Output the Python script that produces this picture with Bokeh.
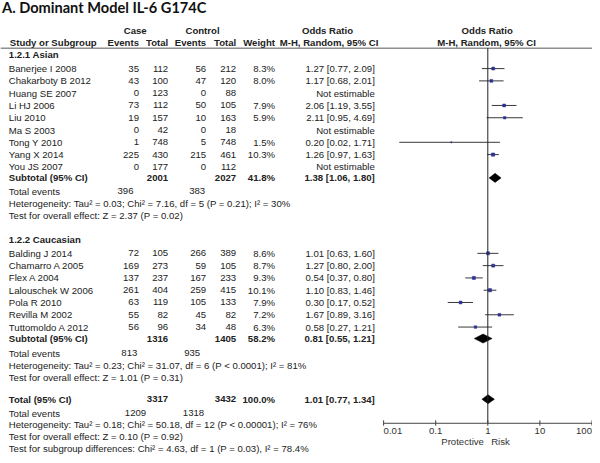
import math
from bokeh.plotting import figure
from bokeh.models import Range1d, LogScale, ColumnDataSource
from bokeh.core.properties import value
from bokeh.embed import file_html
from bokeh.resources import INLINE

# ---------------- data ----------------
TITLE = "A. Dominant Model IL-6 G174C"

asian_names = ["Banerjee I 2008", "Chakarboty B 2012", "Huang SE 2007", "Li HJ 2006",
               "Liu 2010", "Ma S 2003", "Tong Y 2010", "Yang X 2014", "You JS 2007"]
asian_case_events = [35, 43, 0, 73, 19, 0, 1, 225, 0]
asian_case_total = [112, 100, 123, 112, 157, 42, 748, 430, 177]
asian_ctrl_events = [56, 47, 0, 50, 10, 0, 5, 215, 0]
asian_ctrl_total = [212, 120, 88, 105, 163, 18, 748, 461, 112]
asian_weight = [8.3, 8.0, None, 7.9, 5.9, None, 1.5, 10.3, None]
asian_or = [1.27, 1.17, None, 2.06, 2.11, None, 0.20, 1.26, None]
asian_lo = [0.77, 0.68, None, 1.19, 0.95, None, 0.02, 0.97, None]
asian_hi = [2.09, 2.01, None, 3.55, 4.69, None, 1.71, 1.63, None]

cauc_names = ["Balding J 2014", "Chamarro A 2005", "Flex A  2004", "Lalouschek W 2006",
              "Pola R 2010", "Revilla M 2002", "Tuttomoldo A 2012"]
cauc_case_events = [72, 169, 137, 261, 63, 55, 56]
cauc_case_total = [105, 273, 237, 404, 119, 82, 96]
cauc_ctrl_events = [266, 59, 167, 259, 105, 45, 34]
cauc_ctrl_total = [389, 105, 233, 415, 133, 82, 48]
cauc_weight = [8.6, 8.7, 9.3, 10.1, 7.9, 7.2, 6.3]
cauc_or = [1.01, 1.27, 0.54, 1.10, 0.30, 1.67, 0.58]
cauc_lo = [0.63, 0.80, 0.37, 0.83, 0.17, 0.89, 0.27]
cauc_hi = [1.60, 2.00, 0.80, 1.46, 0.52, 3.16, 1.21]

# pooled rows: Asian subtotal, Caucasian subtotal, Total
pooled_labels = ["Subtotal (95% CI)", "Subtotal (95% CI)", "Total (95% CI)"]
pooled_case_total = [2001, 1316, 3317]
pooled_ctrl_total = [2027, 1405, 3432]
pooled_weight = [41.8, 58.2, 100.0]
pooled_or = [1.38, 0.81, 1.01]
pooled_lo = [1.06, 0.55, 0.77]
pooled_hi = [1.80, 1.21, 1.34]
pooled_case_events = [396, 813, 1209]
pooled_ctrl_events = [383, 935, 1318]
heterogeneity = [
    "Heterogeneity: Tau\u00b2 = 0.03; Chi\u00b2 = 7.16, df = 5 (P = 0.21); I\u00b2 = 30%",
    "Heterogeneity: Tau\u00b2 = 0.23; Chi\u00b2 = 31.07, df = 6 (P < 0.0001); I\u00b2 = 81%",
    "Heterogeneity: Tau\u00b2 = 0.18; Chi\u00b2 = 50.18, df = 12 (P < 0.00001); I\u00b2 = 76%",
]
overall_effect = [
    "Test for overall effect: Z = 2.37 (P = 0.02)",
    "Test for overall effect: Z = 1.01 (P = 0.31)",
    "Test for overall effect: Z = 0.10 (P = 0.92)",
]
subgroup_test = "Test for subgroup differences: Chi\u00b2 = 4.63, df = 1 (P = 0.03), I\u00b2 = 78.4%"
subgroup_titles = ["1.2.1 Asian", "1.2.2 Caucasian"]
axis_ticks = [0.01, 0.1, 1, 10, 100]
axis_tick_labels = ["0.01", "0.1", "1", "10", "100"]
favours = ["Protective", "Risk"]

# ---------------- layout (image pixel coordinates) ----------------
FONT = "Liberation Sans"
FS = "9.6px"
TXT = "#222222"
X_NAME = 8.3
X_CE, X_CT, X_XE, X_XT, X_W, X_OR = 138.5, 167.7, 205.7, 235.7, 274.5, 374.3
PX_DECADE = 52.1
X_ONE = 487.3
ROW = 12.5
XMAX = 592

p = figure(width=592, height=455, x_range=Range1d(0, XMAX), y_range=Range1d(464, 1),
           x_axis_type=None, y_axis_type=None, toolbar_location=None,
           output_backend="svg", min_border=0)
p.outline_line_color = None
p.grid.visible = False
p.background_fill_color = "white"
p.extra_x_ranges = {"or": Range1d(10 ** ((0 - X_ONE) / PX_DECADE), 10 ** ((XMAX - X_ONE) / PX_DECADE))}
p.extra_x_scales = {"or": LogScale()}


def txt(xs, ys, texts, align="left", bold=False, size=FS, color=TXT, font=FONT):
    src = ColumnDataSource(dict(x=list(xs), y=list(ys), t=list(texts)))
    p.text(x="x", y="y", text="t", source=src, text_align=align, text_baseline="middle",
           text_font=value(font), text_font_size=size, text_color=color,
           text_font_style="bold" if bold else "normal")


# title
txt([1.5], [8], [TITLE], bold=True, size="14.6px", color="#111111", font="Lato")

# headers
txt([134.7, 202, 327], [31.7] * 3, ["Case", "Control", "Odds Ratio"], align="center", bold=True)
txt([486.7], [31.7], ["Odds Ratio"], align="center", bold=True)
txt([9.3], [43.3], ["Study or Subgroup"], bold=True)
txt([X_CE, X_CT, X_XE, X_XT, X_W], [43.3] * 5, ["Events", "Total", "Events", "Total", "Weight"],
    align="right", bold=True)
txt([328.5, 486], [43.3] * 2, ["M-H, Random, 95% CI"] * 2, align="center", bold=True)
p.segment(x0=[0], x1=[XMAX], y0=[49.5], y1=[49.5], line_color="#555555", line_width=1)


def fmt_or(o, l, h):
    return "Not estimable" if o is None else f"{o:.2f} [{l:.2f}, {h:.2f}]"


def study_block(y0, names, ce, ct, xe, xt, w, o, lo, hi):
    ys = [y0 + i * ROW for i in range(len(names))]
    txt([X_NAME] * len(ys), ys, names)
    txt([X_CE] * len(ys), ys, [str(v) for v in ce], align="right")
    txt([X_CT] * len(ys), ys, [str(v) for v in ct], align="right")
    txt([X_XE] * len(ys), ys, [str(v) for v in xe], align="right")
    txt([X_XT] * len(ys), ys, [str(v) for v in xt], align="right")
    txt([X_W] * len(ys), ys, ["" if v is None else f"{v:.1f}%" for v in w], align="right")
    txt([X_OR] * len(ys), ys, [fmt_or(a, b, c) for a, b, c in zip(o, lo, hi)], align="right")
    idx = [i for i in range(len(names)) if o[i] is not None]
    seg = ColumnDataSource(dict(x0=[lo[i] for i in idx], x1=[hi[i] for i in idx],
                                y=[ys[i] for i in idx], o=[o[i] for i in idx],
                                s=[3.3 * math.sqrt(w[i] / 10.3) for i in idx]))
    p.segment(x0="x0", x1="x1", y0="y", y1="y", source=seg, x_range_name="or",
              line_color="#3a3a3a", line_width=1)
    p.scatter(x="o", y="y", size="s", source=seg, x_range_name="or", marker="square",
              fill_color="#2e3192", line_color="#2e3192", line_width=0.5)


def pooled_block(k, y_sub, y_te, y_het, y_test):
    txt([X_NAME], [y_sub], [pooled_labels[k]], bold=True)
    txt([X_CT, X_XT, X_W], [y_sub] * 3,
        [str(pooled_case_total[k]), str(pooled_ctrl_total[k]), f"{pooled_weight[k]:.1f}%"],
        align="right", bold=True)
    txt([X_OR], [y_sub], [fmt_or(pooled_or[k], pooled_lo[k], pooled_hi[k])], align="right", bold=True)
    txt([X_NAME], [y_te], ["Total events"])
    txt([X_NAME], [y_het], [heterogeneity[k]])
    txt([X_NAME], [y_test], [overall_effect[k]])
    h = 4.6
    o, l, hh = pooled_or[k], pooled_lo[k], pooled_hi[k]
    p.patches(xs=[[l, o, hh, o]], ys=[[y_sub, y_sub - h, y_sub, y_sub + h]], x_range_name="or",
              fill_color="black", line_color="black", line_width=0.5)


# Asian subgroup
txt([X_NAME], [56], [subgroup_titles[0]], bold=True)
study_block(70.3, asian_names, asian_case_events, asian_case_total, asian_ctrl_events,
            asian_ctrl_total, asian_weight, asian_or, asian_lo, asian_hi)
pooled_block(0, 181.5, 195, 207.5, 220)
txt([125, 196.7], [195] * 2, [str(pooled_case_events[0]), str(pooled_ctrl_events[0])], align="center")

# Caucasian subgroup
txt([X_NAME], [244.5], [subgroup_titles[1]], bold=True)
study_block(258.3, cauc_names, cauc_case_events, cauc_case_total, cauc_ctrl_events,
            cauc_ctrl_total, cauc_weight, cauc_or, cauc_lo, cauc_hi)
pooled_block(1, 345, 360, 372.3, 384.3)
txt([128.8, 191.7], [360] * 2, [str(pooled_case_events[1]), str(pooled_ctrl_events[1])], align="center")

# Overall
pooled_block(2, 406.7, 421, 432.5, 444.5)
txt([135, 193], [421] * 2, [str(pooled_case_events[2]), str(pooled_ctrl_events[2])], align="center")
txt([X_NAME], [456.5], [subgroup_test])

# null line and axis
AXIS_Y = 431.2
p.segment(x0=[1], x1=[1], y0=[49.5], y1=[AXIS_Y], x_range_name="or", line_color="#222222", line_width=1)
p.segment(x0=[axis_ticks[0]], x1=[axis_ticks[-1]], y0=[AXIS_Y], y1=[AXIS_Y], x_range_name="or",
          line_color="#444444", line_width=1)
p.segment(x0=axis_ticks, x1=axis_ticks, y0=[AXIS_Y - 3] * 5, y1=[AXIS_Y + 2.5] * 5,
          x_range_name="or", line_color="#444444", line_width=1)
aligns = ["left", "center", "center", "center", "right"]
for t, lab, al in zip(axis_ticks, axis_tick_labels, aligns):
    p.text(x=[t], y=[439.5], text=[lab], x_range_name="or", text_align=al, text_baseline="middle",
           text_font=value(FONT), text_font_size=FS, text_color="#333333")
p.text(x=[10 ** (-0.075)], y=[450], text=[favours[0]], x_range_name="or", text_align="right",
       text_baseline="middle", text_font=value(FONT), text_font_size=FS, text_color="#333333")
p.text(x=[10 ** (0.065)], y=[450], text=[favours[1]], x_range_name="or", text_align="left",
       text_baseline="middle", text_font=value(FONT), text_font_size=FS, text_color="#333333")

open("out.html", "w").write(file_html(p, INLINE))
